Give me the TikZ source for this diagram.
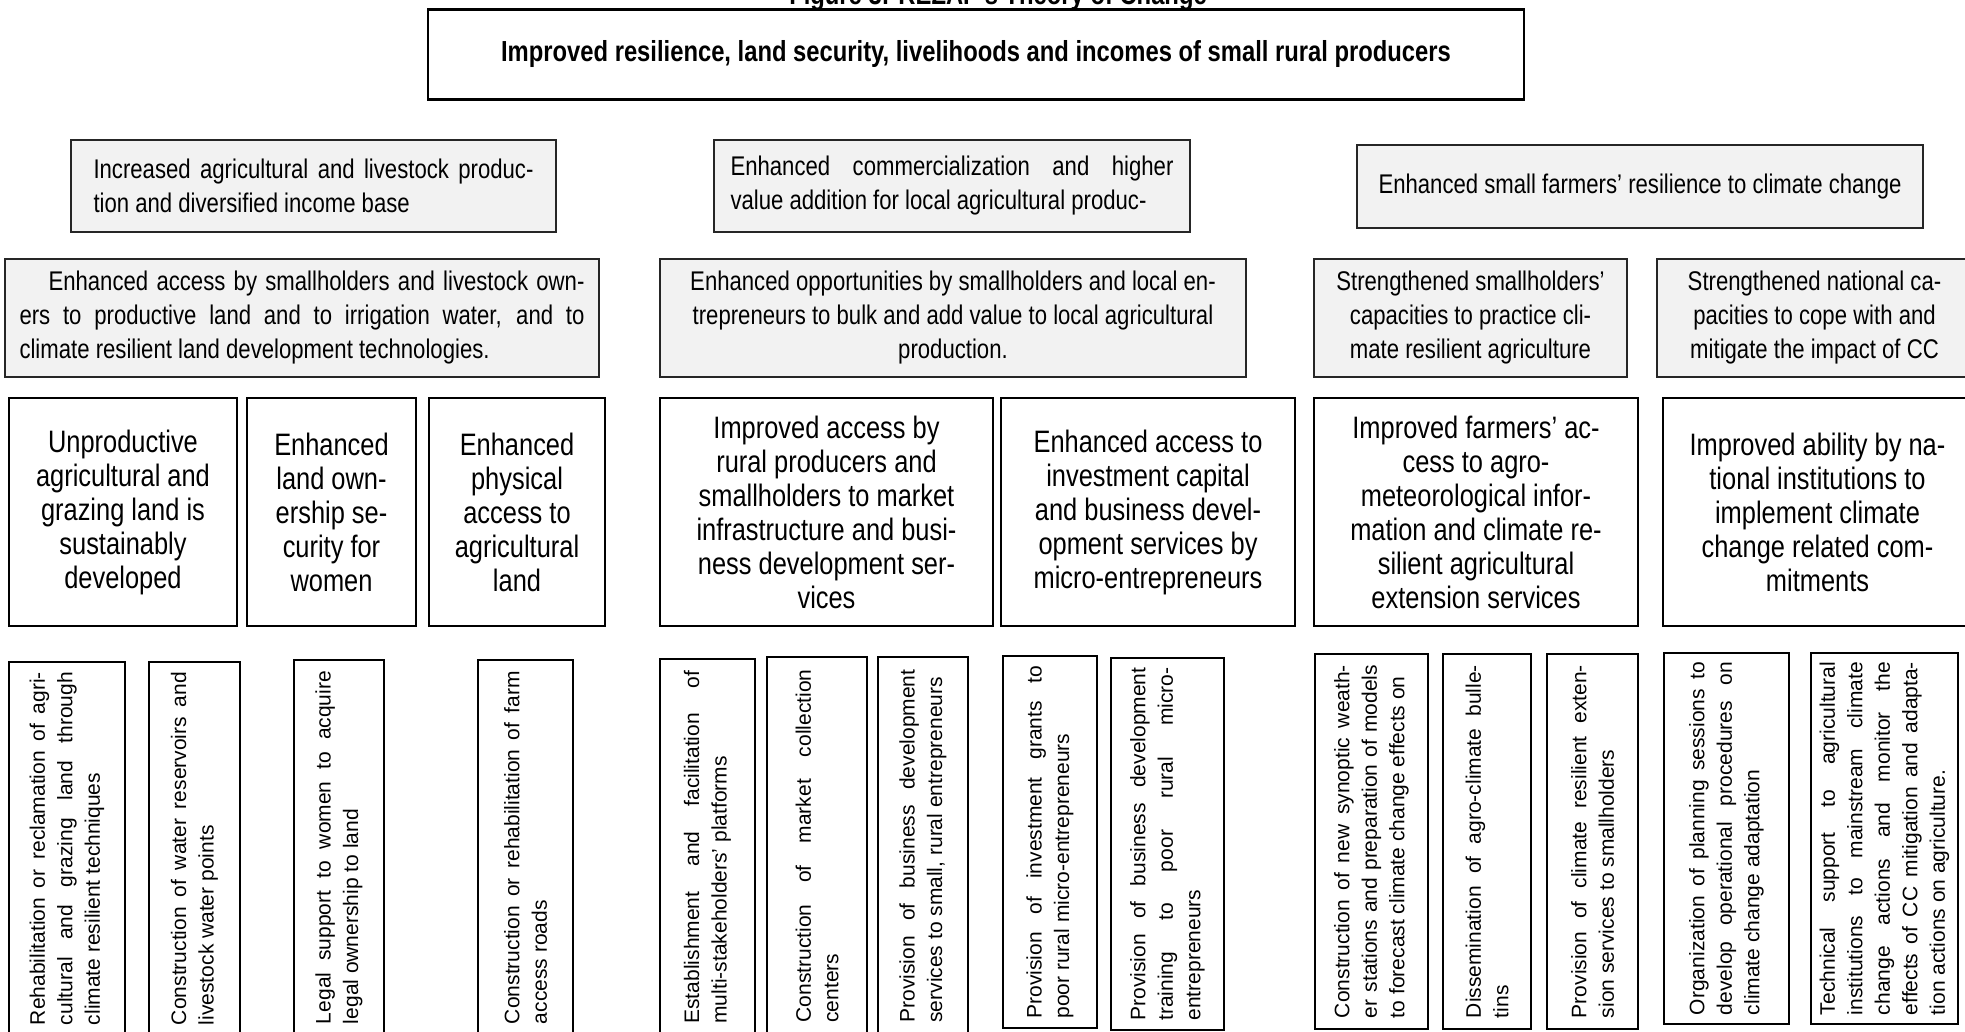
\documentclass[tikz,border=0pt]{standalone}
\usepackage{fontspec}
\setmainfont{Liberation Sans}
\newfontfamily\narrowfont[FakeStretch=0.82]{Liberation Sans}
\definecolor{boxgray}{HTML}{F2F2F2}
\definecolor{boxline}{HTML}{262626}
\hyphenpenalty=10000

\begin{document}
\begin{tikzpicture}[
	x=1pt,
	y=-1pt,
	line join=miter,
	goal/.style={draw=black, line width=1.5pt, inner sep=0pt, align=center,
		font=\narrowfont\bfseries\fontsize{29}{34}\selectfont},
	outcome/.style={draw=boxline, fill=boxgray, line width=2.5pt, inner sep=0pt,
		font=\narrowfont\fontsize{27}{34}\selectfont},
	result/.style={draw=black, fill=white, line width=2pt, inner sep=0pt, align=center,
		font=\narrowfont\fontsize{31}{34}\selectfont},
	activity/.style={draw=black, fill=white, line width=2pt, inner sep=0pt, rotate=90,
		text width=353pt, align=justify, font=\fontsize{21}{27.5}\selectfont}
	]
	
	\path[fill=white, use as bounding box] (0,0) rectangle (1965,1032);
	
	% caption, mostly above the page edge
	\node[anchor=base, font=\narrowfont\bfseries\fontsize{29}{34}\selectfont] (title) at (998,5) {Figure 3: REZAP’s Theory of Change};
	
	%------------------------------
	% Goal
	%------------------------------
	\node[goal, minimum width=1096, minimum height=89] (goal) at (976,54.5) {Improved resilience, land security, livelihoods and incomes of small rural producers};
	\draw[line width=3pt] (goal.north west) -- (goal.north east);
	\draw[line width=3pt] (goal.south west) -- (goal.south east);
	
	%------------------------------
	% Outcomes
	%------------------------------
	\node[outcome, minimum width=485, minimum height=92, text width=440pt, align=justify] (oc1) at (313.5,186) {Increased agricultural and livestock produc-\linebreak tion and diversified income base};
	\node[outcome, minimum width=476, minimum height=92, text width=443pt, align=justify] (oc2) at (952,186) {\parfillskip=0pt Enhanced commercialization and higher\linebreak value addition for local agricultural produc-};
	\node[outcome, minimum width=566, minimum height=83, align=center] (oc3) at (1640,186.5) {Enhanced small farmers’ resilience to climate change};
	
	%------------------------------
	% Outputs
	%------------------------------
	\node[outcome, minimum width=594, minimum height=118, text width=565pt, align=justify] (op1) at (302,318) {\hspace*{29pt}Enhanced access by smallholders and livestock own-\linebreak ers to productive land and to irrigation water, and to\linebreak climate resilient land development technologies.};
	\node[outcome, minimum width=586, minimum height=118, align=center] (op2) at (953,318) {Enhanced opportunities by smallholders and local en-\\trepreneurs to bulk and add value to local agricultural\\production.};
	\node[outcome, minimum width=313, minimum height=118, align=center] (op3) at (1470.5,318) {Strengthened smallholders’\\capacities to practice cli-\\mate resilient agriculture};
	\node[outcome, minimum width=315, minimum height=118, align=center] (op4) at (1814.5,318) {Strengthened national ca-\\pacities to cope with and\\mitigate the impact of CC};
	
	%------------------------------
	% Results (name/left/right/text)
	%------------------------------
	\foreach \nm/\xa/\xb/\txt in {
		rs1/9/237/{Unproductive\\agricultural and\\grazing land is\\sustainably\\developed},
		rs2/247/416/{Enhanced\\land own-\\ership se-\\curity for\\women},
		rs3/429/605/{Enhanced\\physical\\access to\\agricultural\\land},
		rs4/660/993/{Improved access by\\rural producers and\\smallholders to market\\infrastructure and busi-\\ness development ser-\\vices},
		rs5/1001/1295/{Enhanced access to\\investment capital\\and business devel-\\opment services by\\micro-entrepreneurs},
		rs6/1314/1638/{Improved farmers’ ac-\\cess to agro-\\meteorological infor-\\mation and climate re-\\silient agricultural\\extension services},
		rs7/1663/1972/{Improved ability by na-\\tional institutions to\\implement climate\\change related com-\\mitments}}{
		\node[result, minimum width={\xb-\xa}, minimum height=228] (\nm) at ({(\xa+\xb)/2},512) {\txt};
	}
	
	%------------------------------
	% Activities, rotated (name/left/right/top/bottom/text)
	%------------------------------
	\foreach \nm/\xa/\xb/\ya/\yb/\txt in {
		ac1/9/125/662/1035/{Rehabilitation or reclamation of agri-\linebreak cultural and grazing land through\linebreak climate resilient techniques},
		ac2/149/240/662/1035/{Construction of water reservoirs and\linebreak livestock water points},
		ac3/294/384/660/1035/{Legal support to women to acquire\linebreak legal ownership to land},
		ac4/478/573/660/1035/{Construction or rehabilitation of farm\linebreak access roads},
		ac5/660/755/659/1035/{Establishment and facilitation of\linebreak multi-stakeholders’ platforms},
		ac6/767/867/657/1035/{Construction of market collection\linebreak centers},
		ac7/878/968/657/1035/{Provision of business development\linebreak services to small, rural entrepreneurs},
		ac8/1003/1097/656/1028/{Provision of investment grants to\linebreak poor rural micro-entrepreneurs},
		ac9/1111/1224/658/1030/{Provision of business development\linebreak training to poor rural micro-\linebreak entrepreneurs},
		ac10/1315/1428/654/1029/{\parfillskip=0pt Construction of new synoptic weath-\linebreak er stations and preparation of models\linebreak to forecast climate change effects on},
		ac11/1443/1531/654/1029/{Dissemination of agro-climate bulle-\linebreak tins},
		ac12/1547/1638/654/1029/{Provision of climate resilient exten-\linebreak sion services to smallholders},
		ac13/1664/1789/653/1024/{Organization of planning sessions to\linebreak develop operational procedures on\linebreak climate change adaptation},
		ac14/1811/1958/653/1024/{Technical support to agricultural\linebreak institutions to mainstream climate\linebreak change actions and monitor the\linebreak effects of CC mitigation and adapta-\linebreak tion actions on agriculture.}}{
		\node[activity, minimum width={\yb-\ya}, minimum height={\xb-\xa}] (\nm) at ({(\xa+\xb)/2},{(\ya+\yb)/2}) {\txt};
	}
	
\end{tikzpicture}
\end{document}
